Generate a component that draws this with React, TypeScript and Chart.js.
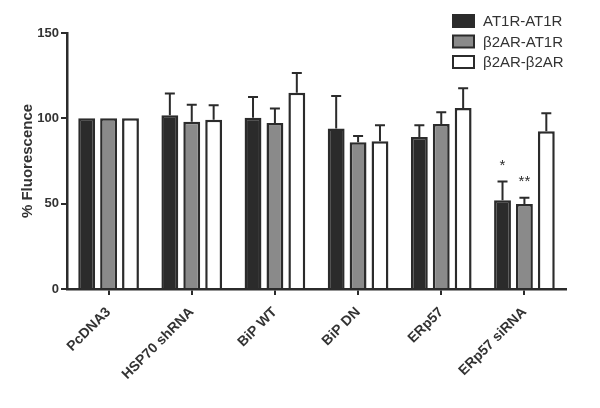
import { useEffect, useRef } from "react"
import { Chart, registerables } from "chart.js"

Chart.register(...registerables)

const categories = ["PcDNA3", "HSP70 shRNA", "BiP WT", "BiP DN", "ERp57", "ERp57 siRNA"]
const seriesNames = ["AT1R-AT1R", "β2AR-AT1R", "β2AR-β2AR"]

const at1rAt1r = [100, 101.8, 100.4, 94.1, 89, 52]
const b2arAt1r = [100, 98, 97.2, 86, 96.7, 49.8]
const b2arB2ar = [100, 99.2, 115, 86.5, 106, 92.5]

// upper error (SEM) only
const at1rAt1rErr = [0, 12.7, 12.1, 19, 7, 11]
const b2arAt1rErr = [0, 10, 8.5, 3.6, 6.8, 3.7]
const b2arB2arErr = [0, 8.4, 11.5, 9.5, 11.6, 10.5]

const yTicks = [0, 50, 100, 150]

// significance marks: [dataset, category, text]
const marks: [number, number, string][] = [
  [0, 5, "*"],
  [1, 5, "**"],
]

const INK = "#2b2b2b"
const FONT = "'Liberation Sans', Arial, sans-serif"
const FILLS = ["#2b2b2b", "#8a8a8a", "#ffffff"]
const ERRS = [at1rAt1rErr, b2arAt1rErr, b2arB2arErr]

const errorBars = {
  id: "errorBars",
  afterDatasetsDraw(chart: any) {
    const { ctx } = chart
    const y = chart.scales.y
    ctx.save()
    ctx.strokeStyle = INK
    ctx.lineWidth = 2
    chart.data.datasets.forEach((ds: any, di: number) => {
      const meta = chart.getDatasetMeta(di)
      meta.data.forEach((bar: any, i: number) => {
        const err = ERRS[di][i]
        if (!err) return
        const top = y.getPixelForValue(ds.data[i] + err)
        ctx.beginPath()
        ctx.moveTo(bar.x, bar.y)
        ctx.lineTo(bar.x, top)
        ctx.moveTo(bar.x - 5, top)
        ctx.lineTo(bar.x + 5, top)
        ctx.stroke()
      })
    })
    ctx.fillStyle = INK
    ctx.font = `15px ${FONT}`
    ctx.textAlign = "center"
    ctx.textBaseline = "middle"
    marks.forEach(([di, i, text]) => {
      const bar = chart.getDatasetMeta(di).data[i]
      const ds = chart.data.datasets[di]
      const top = y.getPixelForValue(ds.data[i] + ERRS[di][i])
      ctx.fillText(text, bar.x, top - 16)
    })
    ctx.restore()
  },
}

const boxLegend = {
  id: "boxLegend",
  afterDraw(chart: any) {
    const { ctx } = chart
    ctx.save()
    ctx.font = `15px ${FONT}`
    ctx.textBaseline = "middle"
    ctx.textAlign = "left"
    chart.data.datasets.forEach((ds: any, di: number) => {
      const cy = 21 + di * 20.5
      ctx.fillStyle = ds.backgroundColor
      ctx.fillRect(453, cy - 6, 21, 12)
      ctx.strokeStyle = INK
      ctx.lineWidth = 2
      ctx.strokeRect(453, cy - 6, 21, 12)
      ctx.fillStyle = "#333333"
      ctx.fillText(ds.label, 483, cy + 1)
    })
    ctx.restore()
  },
}

export default function App() {
  const canvasRef = useRef<HTMLCanvasElement>(null)

  useEffect(() => {
    const canvas = canvasRef.current
    if (!canvas) return

    const values = [at1rAt1r, b2arAt1r, b2arB2ar]
    const chart = new Chart(canvas, {
      type: "bar",
      data: {
        labels: categories,
        datasets: values.map((data, i) => ({
          label: seriesNames[i],
          data,
          backgroundColor: FILLS[i],
          borderColor: INK,
          borderWidth: 2.5,
          categoryPercentage: 0.79,
          barPercentage: 0.77,
        })),
      },
      options: {
        animation: false,
        responsive: true,
        maintainAspectRatio: false,
        layout: { padding: { left: 0, top: 33, right: 34, bottom: 0 } },
        plugins: {
          legend: { display: false },
          tooltip: { enabled: false },
        },
        scales: {
          x: {
            grid: {
              offset: false,
              drawOnChartArea: false,
              drawTicks: true,
              tickLength: 6,
              color: INK,
              lineWidth: 2,
            },
            border: { color: INK, width: 2.5 },
            ticks: {
              color: "#333333",
              font: { family: FONT, size: 14, weight: "bold" },
              minRotation: 45,
              maxRotation: 45,
              padding: 9,
              autoSkip: false,
            },
            afterFit: (s: any) => {
              s.height = 119
            },
          },
          y: {
            min: 0,
            max: 150,
            afterBuildTicks: (s: any) => {
              s.ticks = yTicks.map((v) => ({ value: v }))
            },
            grid: {
              drawOnChartArea: false,
              drawTicks: true,
              tickLength: 6,
              color: INK,
              lineWidth: 2,
            },
            border: { color: INK, width: 2.5 },
            ticks: {
              color: "#333333",
              font: { family: FONT, size: 13, weight: "bold" },
              padding: 2,
            },
            title: {
              display: true,
              text: "% Fluorescence",
              color: "#333333",
              font: { family: FONT, size: 15, weight: "bold" },
              padding: { top: 19, bottom: 0 },
            },
            afterFit: (s: any) => {
              s.width = 67
            },
          },
        },
      },
      plugins: [errorBars, boxLegend],
    })

    return () => chart.destroy()
  }, [])

  return (
    <div style={{ position: "fixed", left: 0, top: 0, width: 600, height: 408, background: "#fff" }}>
      <canvas ref={canvasRef} />
    </div>
  )
}
